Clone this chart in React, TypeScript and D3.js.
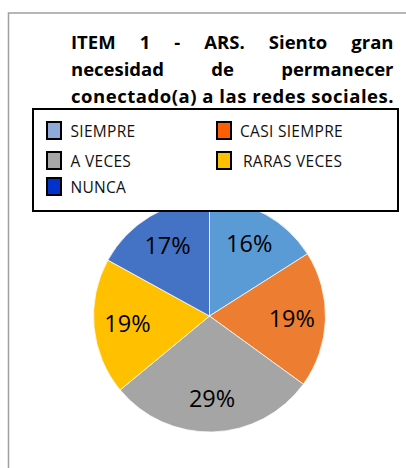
import React, { useEffect, useRef } from 'react';
import { select, pie, arc } from 'd3';

const categories = ['SIEMPRE', 'CASI SIEMPRE', 'A VECES', 'RARAS VECES', 'NUNCA'];
const values = [16, 19, 29, 19, 17];
const sliceColors = ['#5b9bd5', '#ed7d31', '#a5a5a5', '#ffc000', '#4472c4'];
const legendColors = ['#8eaadb', '#ff5f00', '#a6a6a6', '#ffc000', '#0033cc'];
const titleLines = [
  ['ITEM', '1', '-', 'ARS.', 'Siento', 'gran'],
  ['necesidad', 'de', 'permanecer'],
  ['conectado(a)', 'a', 'las', 'redes', 'sociales.'],
];

const W = 406;
const H = 468;

export default function App() {
  const svgRef = useRef<SVGSVGElement>(null);

  useEffect(() => {
    if (!svgRef.current) return;
    const svg = select(svgRef.current);
    svg.selectAll('*').remove();

    svg.append('rect').attr('width', W).attr('height', H).attr('fill', '#fff');
    // outer frame (runs off the right/bottom)
    svg.append('rect')
      .attr('x', 8.5).attr('y', 13).attr('width', 500).attr('height', 500)
      .attr('fill', 'none').attr('stroke', '#a0a0a0').attr('stroke-width', 1.5);

    // title, justified like the document
    const left = 71, right = 393.5, lineH = 27, firstBase = 49;
    const titleG = svg.append('g')
      .attr('font-family', "'Open Sans', sans-serif").attr('font-weight', 700)
      .attr('font-size', '18.5px').attr('fill', '#000');
    titleLines.forEach((words, li) => {
      const y = firstBase + li * lineH;
      const last = li === titleLines.length - 1;
      if (last) {
        // last line is full width already: stretch it a little to the margin
        titleG.append('text').attr('x', left).attr('y', y)
          .attr('textLength', right - left).attr('lengthAdjust', 'spacing')
          .text(words.join(' '));
        return;
      }
      const nodes = words.map(w => titleG.append('text').attr('y', y).text(w));
      const widths = nodes.map(n => (n.node() as SVGTextElement).getComputedTextLength());
      const total = widths.reduce((a, b) => a + b, 0);
      const gap = (right - left - total) / (words.length - 1);
      let x = left;
      nodes.forEach((n, i) => {
        n.attr('x', x);
        x += widths[i] + gap;
      });
    });

    // pie
    const cx = 209.5, cy = 316, r = 116;
    const pieGen = pie<number>().sort(null).value(d => d);
    const arcs = pieGen(values);
    const arcGen = arc<any>().innerRadius(0).outerRadius(r);
    const labelArc = arc<any>().innerRadius(r * 0.71).outerRadius(r * 0.71);
    const g = svg.append('g').attr('transform', `translate(${cx},${cy})`);
    g.selectAll('path.slice').data(arcs).enter().append('path')
      .attr('class', 'slice')
      .attr('d', arcGen)
      .attr('fill', (d, i) => sliceColors[i])
      .attr('stroke', '#fff').attr('stroke-width', 0.75);
    g.selectAll('text.lbl').data(arcs).enter().append('text')
      .attr('class', 'lbl')
      .attr('transform', d => `translate(${labelArc.centroid(d)})`)
      .attr('text-anchor', 'middle').attr('dy', '0.36em')
      .attr('font-family', "'Open Sans', sans-serif").attr('font-size', '23.5px')
      .attr('fill', '#000')
      .text(d => `${d.data}%`);

    // legend box (drawn over the pie top)
    const lx = 33, ly = 109, lw = 365, lh = 102;
    svg.append('rect')
      .attr('x', lx).attr('y', ly).attr('width', lw).attr('height', lh)
      .attr('fill', '#fff').attr('stroke', '#000').attr('stroke-width', 2);
    const colX = [47, 217];
    const textX = [70.5, 240];
    const rowY = [122, 152, 178];
    const legG = svg.append('g')
      .attr('font-family', "'Open Sans', sans-serif").attr('font-size', '15.5px')
      .attr('letter-spacing', '0.3px').attr('fill', '#111');
    categories.forEach((c, i) => {
      const col = i % 2;
      const row = Math.floor(i / 2);
      legG.append('rect')
        .attr('x', colX[col]).attr('y', rowY[row]).attr('width', 14).attr('height', 17)
        .attr('fill', legendColors[i]).attr('stroke', '#000').attr('stroke-width', 2);
      legG.append('text')
        .attr('x', textX[col] + (i === 3 ? 3 : 0)).attr('y', rowY[row] + 14.8)
        .text(c);
    });
  }, []);

  return (
    <svg
      ref={svgRef}
      width={W}
      height={H}
      viewBox={`0 0 ${W} ${H}`}
      style={{ position: 'absolute', left: 0, top: 0, display: 'block' }}
    />
  );
}
